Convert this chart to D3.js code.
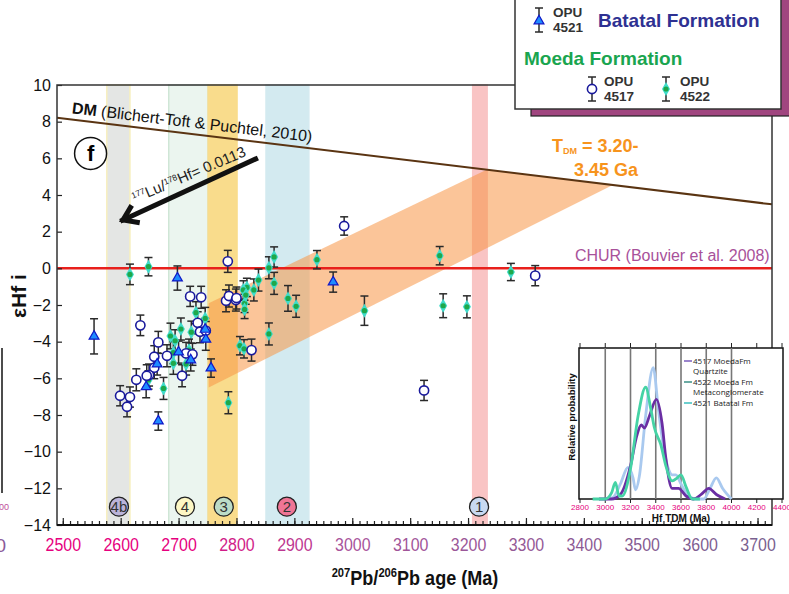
<!DOCTYPE html>
<html>
<head>
<meta charset="utf-8">
<script src="https://cdn.jsdelivr.net/npm/d3@7"></script>
<style>
  body { margin: 0; background: #fff; }
  svg { display: block; font-family: "Liberation Sans", Arial, sans-serif; }
</style>
</head>
<body>
<div id="chart"></div>
<script>
// ---- data: [207Pb/206Pb age (Ma), eHf(i), 2s error] ----
const moeda4517 = [
  [2634, -3.11, 0.56], [2720, -1.53, 0.55], [2739, -1.58, 0.6], [2733, -2.97, 0.6],
  [2737, -3.46, 0.6], [2747, -3.40, 0.5], [2665, -4.04, 0.6], [2658, -4.82, 0.6],
  [2680, -4.77, 0.6], [2713, -4.64, 0.6], [2724, -4.69, 0.6], [2658, -5.42, 0.6],
  [2649, -5.82, 0.6], [2645, -5.86, 0.6], [2627, -6.08, 0.6], [2706, -5.86, 0.6],
  [2599, -6.95, 0.55], [2616, -7.02, 0.55], [2611, -7.55, 0.55], [2785, 0.38, 0.6],
  [2986, 2.31, 0.5], [2782, -1.77, 0.6], [2787, -1.51, 0.6], [2799, -1.73, 0.6],
  [2800, -1.62, 0.6], [2826, -4.46, 0.6], [3316, -0.40, 0.55], [3124, -6.66, 0.55]
];
const moeda4522 = [
  [2616, -0.33, 0.56], [2648, 0.09, 0.5], [2686, -3.69, 0.7], [2694, -3.95, 0.6],
  [2704, -3.31, 0.6], [2730, -2.42, 0.6], [2746, -2.73, 0.6], [2722, -3.48, 0.6],
  [2718, -4.46, 0.6], [2691, -4.60, 0.6], [2691, -5.18, 0.6], [2713, -5.22, 0.6],
  [2674, -6.55, 0.6], [2648, -6.09, 0.5], [2786, -7.33, 0.6], [2865, 0.62, 0.55],
  [2856, 0.03, 0.6], [2865, -0.82, 0.6], [2838, -0.64, 0.6], [2830, -1.18, 0.6],
  [2818, -1.04, 0.5], [2812, -1.18, 0.5], [2814, -1.91, 0.5], [2814, -2.24, 0.5],
  [2816, -1.46, 0.5], [2889, -1.64, 0.7], [2903, -2.07, 0.6], [2939, 0.47, 0.5],
  [3021, -2.31, 0.8], [2856, -3.58, 0.6], [2806, -4.22, 0.5], [2813, -4.39, 0.5],
  [3151, 0.69, 0.5], [3157, -2.04, 0.65], [3198, -2.10, 0.6], [3274, -0.20, 0.47]
];
const batatal4521 = [
  [2554, -3.71, 0.96], [2698, -0.53, 0.66], [2746, -3.33, 0.6], [2747, -3.87, 0.6],
  [2700, -4.57, 0.6], [2663, -5.22, 0.6], [2721, -5.00, 0.6], [2644, -6.46, 0.6],
  [2756, -5.44, 0.5], [2665, -8.33, 0.5], [2967, -0.75, 0.55]
];

// reference lines and the TDM field
const dmLine = [[2490, 8.22], [3725, 3.49]];
const churLine = [[2490, 0], [3725, 0]];
const tdmBand = [[2752, -1.9], [3232, 5.38], [3450, 4.54], [2752, -6.5]];

// magmatic events (vertical bands)
const eventLabels = ['4b', '4', '3', '2', '1'];
const eventFrom = [2576, 2683, 2751, 2851, 3208];
const eventTo = [2616, 2751, 2801, 2925, 3233];
const eventAt = [2597, 2711, 2778, 2887, 3219];

// inset: Hf TDM probability curves [age, relative probability]
const tdm4517 = [[2950, 0], [3050, 0], [3120, 0.03], [3200, 0.22], [3250, 0.42], [3285, 0.49],
  [3310, 0.47], [3350, 0.55], [3405, 0.66], [3450, 0.5], [3480, 0.27], [3530, 0.07],
  [3580, 0.07], [3640, 0.02], [3700, 0], [3760, 0.03], [3820, 0.07], [3880, 0.03], [3950, 0]];
const tdm4522 = [[2900, 0], [3000, 0], [3050, 0.04], [3080, 0.11], [3110, 0.02], [3135, 0.02],
  [3200, 0.2], [3260, 0.55], [3320, 0.74], [3360, 0.6], [3390, 0.47], [3440, 0.36],
  [3480, 0.22], [3530, 0.12], [3570, 0.14], [3600, 0.16], [3640, 0.08], [3690, 0], [3750, 0]];
const tdm4521 = [[3000, 0], [3060, 0.01], [3120, 0.1], [3180, 0.21], [3220, 0.14], [3240, 0.06],
  [3270, 0.15], [3320, 0.55], [3380, 0.87], [3420, 0.6], [3460, 0.35], [3500, 0.2],
  [3530, 0.16], [3560, 0.16], [3600, 0.1], [3650, 0.03], [3720, 0], [3780, 0], [3830, 0.07],
  [3880, 0.14], [3930, 0.07], [4000, 0]];
const insetNames = [['4517 MoedaFm', 'Quartzite'], ['4522 Moeda Fm', 'Metaconglomerate'], ['4521 Batatal Fm']];

const xTicks = d3.range(2500, 3701, 100);
const yTicks = d3.range(-14, 11, 2);
const insetTicks = d3.range(2800, 4401, 200);

// ---- drawing ----
const width = 789, height = 594;
const svg = d3.select('#chart').append('svg').attr('width', width).attr('height', height);

const x = d3.scaleLinear().domain([2490, 3725]).range([57, 772]);
const y = d3.scaleLinear().domain([-14, 10]).range([525, 85]);

// remnants of the neighbouring panel at the left edge
svg.append('line').attr('x1', 2).attr('x2', 2).attr('y1', 348).attr('y2', 493)
  .attr('stroke', '#111').attr('stroke-width', 1.5);
svg.append('text').attr('x', 9).attr('y', 510).attr('text-anchor', 'end')
  .attr('font-size', 9).attr('fill', '#c0509a').text('400');
svg.append('text').attr('x', 6).attr('y', 552).attr('text-anchor', 'end')
  .attr('font-size', 19).attr('fill', '#8a5a9a').text('0');

// event bands
const bandFill = ['#e4e6e4', '#ebf5ef', '#f9dc8c', '#d3eaf0', '#f9c4c4'];
const bandEdge = ['#f7efbf', '#cfe6d6', '#f9dc8c', '#d3eaf0', '#f9c4c4'];
const bands = svg.append('g');
eventLabels.forEach((lab, i) => {
  bands.append('rect')
    .attr('x', x(eventFrom[i])).attr('width', x(eventTo[i]) - x(eventFrom[i]))
    .attr('y', y(10)).attr('height', y(-14) - y(10))
    .attr('fill', bandFill[i]).attr('stroke', bandEdge[i]).attr('stroke-width', 1.5);
});

// TDM field
svg.append('path')
  .attr('d', d3.line().x(d => x(d[0])).y(d => y(d[1]))(tdmBand) + 'Z')
  .attr('fill', '#f79646').attr('fill-opacity', 0.55);

// DM and CHUR lines
svg.append('path').attr('d', d3.line().x(d => x(d[0])).y(d => y(d[1]))(dmLine))
  .attr('stroke', '#5a3412').attr('stroke-width', 2).attr('fill', 'none');
svg.append('path').attr('d', d3.line().x(d => x(d[0])).y(d => y(d[1]))(churLine))
  .attr('stroke', '#e8201c').attr('stroke-width', 2.5).attr('fill', 'none');

// event number badges
const badgeFill = ['#bab3d9', '#fdf7c4', '#bcdcc8', '#ef7595', '#c8d9f0'];
eventLabels.forEach((lab, i) => {
  svg.append('circle').attr('cx', x(eventAt[i])).attr('cy', y(-13)).attr('r', 9.5)
    .attr('fill', badgeFill[i]).attr('stroke', '#222').attr('stroke-width', 1.3);
  svg.append('text').attr('x', x(eventAt[i])).attr('y', y(-13) + 5.5)
    .attr('text-anchor', 'middle').attr('font-size', 15).attr('fill', '#333').text(lab);
});

// axes
const xAxis = svg.append('g').attr('transform', `translate(0,${y(-14)})`);
xAxis.call(d3.axisBottom(x).tickValues(d3.range(2500, 3725, 12.5)).tickSize(-4).tickFormat(''));
const xMajor = svg.append('g').attr('transform', `translate(0,${y(-14)})`)
  .call(d3.axisBottom(x).tickValues(xTicks).tickSize(-7).tickPadding(13).tickFormat(d3.format('d')));
const tickColor = d3.scaleLinear().domain([2700, 3000, 3700])
  .range(['#e6007e', '#a8539b', '#79608f']).clamp(true);
xMajor.selectAll('text')
  .attr('font-size', 19)
  .attr('transform', 'scale(0.84,1)')
  .attr('fill', d => tickColor(d));
[xAxis, xMajor].forEach(a => {
  a.select('.domain').remove();
  a.selectAll('line').attr('stroke', '#222').attr('stroke-width', 1.2);
});

const yAxis = svg.append('g').attr('transform', `translate(${x(2490)},0)`)
  .call(d3.axisLeft(y).tickValues(yTicks).tickSize(-5).tickPadding(6));
yAxis.select('.domain').remove();
yAxis.selectAll('line').attr('stroke', '#222').attr('stroke-width', 1.2);
yAxis.selectAll('text').attr('font-size', 16).attr('fill', '#111');

// plot frame
svg.append('rect').attr('x', x(2490)).attr('y', y(10))
  .attr('width', x(3725) - x(2490)).attr('height', y(-14) - y(10))
  .attr('fill', 'none').attr('stroke', '#333').attr('stroke-width', 1.5);
svg.append('line').attr('x1', x(2490)).attr('x2', x(3725)).attr('y1', y(-14)).attr('y2', y(-14))
  .attr('stroke', '#111').attr('stroke-width', 2);

// axis titles
const xTitle = svg.append('text').attr('transform', 'translate(415,585) scale(0.86,1)')
  .attr('text-anchor', 'middle')
  .attr('font-size', 21).attr('font-weight', 'bold').attr('fill', '#111');
xTitle.append('tspan').attr('font-size', 13).attr('baseline-shift', '55%').text('207');
xTitle.append('tspan').text('Pb/');
xTitle.append('tspan').attr('font-size', 13).attr('baseline-shift', '55%').text('206');
xTitle.append('tspan').text('Pb age (Ma)');

svg.append('text').attr('transform', 'translate(26,296) rotate(-90)').attr('text-anchor', 'middle')
  .attr('font-size', 21).attr('font-weight', 'bold').attr('fill', '#111').text('εHf i');

// annotations
const dmLab = svg.append('text')
  .attr('transform', `translate(${x(2515)},${y(8.46)}) rotate(6.8)`)
  .attr('font-size', 16).attr('fill', '#111');
dmLab.append('tspan').attr('font-weight', 'bold').text('DM');
dmLab.append('tspan').text(' (Blichert-Toft & Puchtel, 2010)');

svg.append('circle').attr('cx', x(2548)).attr('cy', y(6.27)).attr('r', 16)
  .attr('fill', 'white').attr('stroke', '#111').attr('stroke-width', 1.5);
svg.append('text').attr('x', x(2548)).attr('y', y(6.27) + 8).attr('text-anchor', 'middle')
  .attr('font-size', 22).attr('font-weight', 'bold').text('f');

// Lu/Hf evolution arrow
const a0 = [x(2837), y(6.02)], a1 = [x(2604), y(2.64)];
const ang = Math.atan2(a1[1] - a0[1], a1[0] - a0[0]);
svg.append('line').attr('x1', a0[0]).attr('y1', a0[1]).attr('x2', a1[0] + 3 * Math.cos(ang)).attr('y2', a1[1] + 3 * Math.sin(ang))
  .attr('stroke', '#111').attr('stroke-width', 5);
const hl = 17;
const h1 = [a1[0] - hl * Math.cos(ang - 0.6), a1[1] - hl * Math.sin(ang - 0.6)];
const h2 = [a1[0] - hl * Math.cos(ang + 0.6), a1[1] - hl * Math.sin(ang + 0.6)];
svg.append('path').attr('d', `M${h1}L${a1}L${h2}`)
  .attr('fill', 'none').attr('stroke', '#111').attr('stroke-width', 5).attr('stroke-linejoin', 'miter');
const luLab = svg.append('text')
  .attr('transform', `translate(${x(2624)},${y(3.55)}) rotate(-23)`)
  .attr('font-size', 15).attr('fill', '#222');
luLab.append('tspan').attr('font-size', 8.5).attr('baseline-shift', '60%').text('177');
luLab.append('tspan').text('Lu/');
luLab.append('tspan').attr('font-size', 8.5).attr('baseline-shift', '60%').text('178');
luLab.append('tspan').text('Hf= 0.0113');

const tdmLab = svg.append('g').attr('fill', '#f7941d').attr('font-weight', 'bold').attr('font-size', 18);
const t1 = tdmLab.append('text').attr('x', x(3345)).attr('y', y(6.34));
t1.append('tspan').text('T');
t1.append('tspan').attr('font-size', 9).attr('baseline-shift', '-25%').text('DM');
t1.append('tspan').text(' = 3.20-');
tdmLab.append('text').attr('x', x(3383)).attr('y', y(5.04)).text('3.45 Ga');

svg.append('text').attr('x', x(3721)).attr('y', y(0.41)).attr('text-anchor', 'end')
  .attr('font-size', 16).attr('fill', '#a8519a').text('CHUR (Bouvier et al. 2008)');

// error bars + markers
function errorBars(data) {
  const g = svg.append('g').attr('stroke', '#2a2a2a').attr('stroke-width', 1.5);
  g.selectAll('line.v').data(data).join('line')
    .attr('x1', d => x(d[0])).attr('x2', d => x(d[0]))
    .attr('y1', d => y(d[1] - d[2])).attr('y2', d => y(d[1] + d[2]));
  g.selectAll('line.t').data(data).join('line')
    .attr('x1', d => x(d[0]) - 4).attr('x2', d => x(d[0]) + 4)
    .attr('y1', d => y(d[1] + d[2])).attr('y2', d => y(d[1] + d[2]));
  g.selectAll('line.b').data(data).join('line')
    .attr('x1', d => x(d[0]) - 4).attr('x2', d => x(d[0]) + 4)
    .attr('y1', d => y(d[1] - d[2])).attr('y2', d => y(d[1] - d[2]));
}
errorBars(moeda4522);
errorBars(moeda4517);
errorBars(batatal4521);

function diamond(g, px, py) {
  g.append('path').attr('transform', `translate(${px},${py})`)
    .attr('d', d3.symbol(d3.symbolDiamond, 56)()).attr('fill', '#3fdccb');
  g.append('circle').attr('cx', px).attr('cy', py).attr('r', 2.6).attr('fill', '#1fa84a');
}
function openCircle(g, px, py) {
  g.append('circle').attr('cx', px).attr('cy', py).attr('r', 4.6)
    .attr('fill', 'white').attr('stroke', '#1a1a9c').attr('stroke-width', 1.6);
}
function triangle(g, px, py) {
  g.append('path').attr('transform', `translate(${px},${py})`)
    .attr('d', d3.symbol(d3.symbolTriangle, 42)())
    .attr('fill', '#1e8cff').attr('stroke', '#1018c8').attr('stroke-width', 1.2);
}
const marks = svg.append('g');
moeda4522.forEach(d => diamond(marks, x(d[0]), y(d[1])));
moeda4517.forEach(d => openCircle(marks, x(d[0]), y(d[1])));
batatal4521.forEach(d => triangle(marks, x(d[0]), y(d[1])));

// ---- legend box (top right) ----
const leg = svg.append('g');
leg.append('rect').attr('x', 531).attr('y', -10).attr('width', 262).attr('height', 126)
  .attr('fill', '#a0457f').attr('stroke', '#222').attr('stroke-width', 1.2);
leg.append('rect').attr('x', 515).attr('y', -10).attr('width', 266).attr('height', 119)
  .attr('fill', 'white').attr('stroke', '#333').attr('stroke-width', 1.5);
function legBar(px, py) {
  leg.append('line').attr('x1', px).attr('x2', px).attr('y1', py - 12).attr('y2', py + 12)
    .attr('stroke', '#2a2a2a').attr('stroke-width', 1.5);
  [py - 12, py + 12].forEach(v => leg.append('line').attr('x1', px - 4).attr('x2', px + 4)
    .attr('y1', v).attr('y2', v).attr('stroke', '#2a2a2a').attr('stroke-width', 1.5));
}
legBar(539, 20); triangle(leg, 539, 21);
legBar(592, 89); openCircle(leg, 592, 89);
legBar(666, 89); diamond(leg, 666, 89);
[[553, 17, 'OPU'], [553, 32, '4521'], [604, 86, 'OPU'], [604, 101, '4517'], [680, 86, 'OPU'], [680, 101, '4522']]
  .forEach(t => leg.append('text').attr('x', t[0]).attr('y', t[1]).attr('font-size', 13.5)
    .attr('font-weight', 'bold').attr('fill', '#333').text(t[2]));
leg.append('text').attr('x', 598).attr('y', 27).attr('font-size', 19).attr('font-weight', 'bold')
  .attr('fill', '#2e3192').text('Batatal Formation');
leg.append('text').attr('x', 524).attr('y', 65).attr('font-size', 19).attr('font-weight', 'bold')
  .attr('fill', '#1aa54f').text('Moeda Formation');

// ---- inset: Hf TDM probability plot ----
const ix = d3.scaleLinear().domain([2800, 4400]).range([580, 782]);
const iy = d3.scaleLinear().domain([0, 1]).range([499, 348]);
const inset = svg.append('g');
inset.append('rect').attr('x', 579).attr('y', 348).attr('width', 204).attr('height', 151)
  .attr('fill', 'white').attr('stroke', '#111').attr('stroke-width', 1.5);
inset.selectAll('line.grid').data(insetTicks.filter(v => v >= 3000 && v <= 4000)).join('line')
  .attr('x1', d => ix(d)).attr('x2', d => ix(d)).attr('y1', 348).attr('y2', 499)
  .attr('stroke', '#777').attr('stroke-width', 1.6);
inset.selectAll('line.tt').data(insetTicks).join('line')
  .attr('x1', d => ix(d)).attr('x2', d => ix(d)).attr('y1', 348).attr('y2', 343)
  .attr('stroke', '#222').attr('stroke-width', 1);
inset.selectAll('line.bt').data(insetTicks).join('line')
  .attr('x1', d => ix(d)).attr('x2', d => ix(d)).attr('y1', 499).attr('y2', 503)
  .attr('stroke', '#222').attr('stroke-width', 1);
const curve = d3.line().x(d => ix(d[0])).y(d => iy(d[1])).curve(d3.curveMonotoneX);
[[tdm4521, '#a9c9ef'], [tdm4517, '#6a2ea3'], [tdm4522, '#45d3a5']].forEach(s => {
  inset.append('path').attr('d', curve(s[0])).attr('fill', 'none')
    .attr('stroke', s[1]).attr('stroke-width', 2.8).attr('stroke-linejoin', 'round');
});
inset.selectAll('text.tick').data(insetTicks).join('text')
  .attr('x', d => ix(d)).attr('y', 510).attr('text-anchor', 'middle')
  .attr('font-size', 8).attr('fill', '#e6007e').text(d => d);
inset.append('text').attr('x', 681).attr('y', 522).attr('text-anchor', 'middle')
  .attr('font-size', 10).attr('font-weight', 'bold').attr('fill', '#111').text('Hf TDM (Ma)');
inset.append('text').attr('transform', 'translate(575,417) rotate(-90)').attr('text-anchor', 'middle')
  .attr('font-size', 9.5).attr('font-weight', 'bold').attr('fill', '#111').text('Relative probability');
// inset legend: one text per line so entries stay clear of each other
const iLegColor = ['#7a5cbc', '#3a8f86', '#3bbfbf'];
const iLegY = [364, 385, 406];
insetNames.forEach((n, i) => {
  inset.append('line').attr('x1', 684).attr('x2', 692).attr('y1', iLegY[i] - 3).attr('y2', iLegY[i] - 3)
    .attr('stroke', iLegColor[i]).attr('stroke-width', 1.5);
  n.forEach((s, k) => inset.append('text').attr('x', 693).attr('y', iLegY[i] + k * 10)
    .attr('font-size', 8).attr('font-family', '"Open Sans", sans-serif').attr('fill', '#222').text(s));
});
</script>
</body>
</html>
